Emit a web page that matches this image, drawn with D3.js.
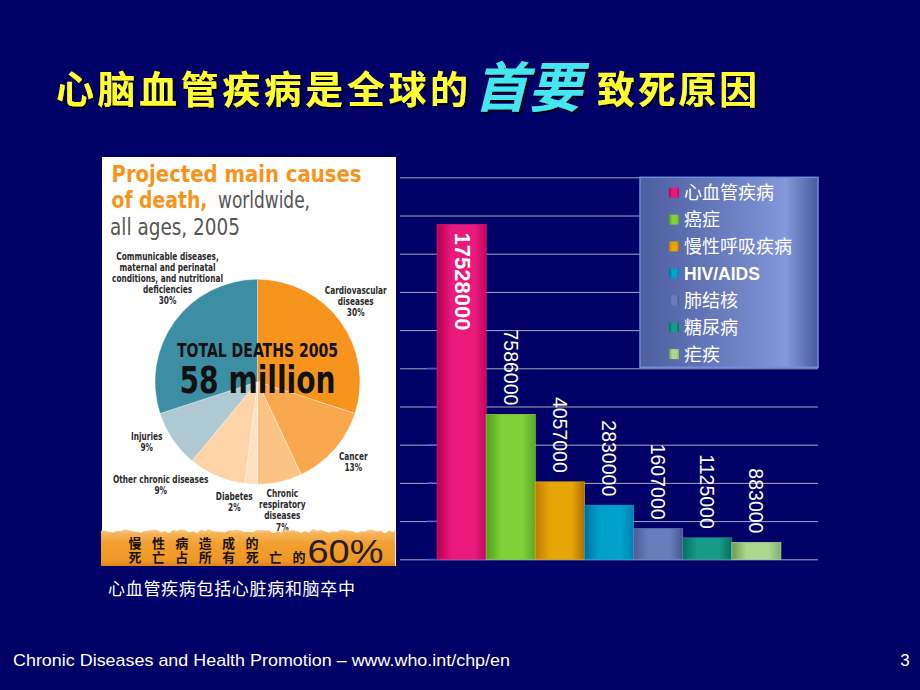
<!DOCTYPE html>
<html><head><meta charset="utf-8">
<script src="https://cdn.jsdelivr.net/npm/d3@7"></script>
<style>body{margin:0;background:#000066;} svg{display:block}</style>
</head><body>
<script>
// ---------------- data ----------------
const seriesNames = ["心血管疾病", "癌症", "慢性呼吸疾病", "HIV/AIDS", "肺结核", "糖尿病", "疟疾"];
const seriesValues = [17528000, 7586000, 4057000, 2830000, 1607000, 1125000, 883000];
const yTickValues = [0, 2000000, 4000000, 6000000, 8000000, 10000000, 12000000, 14000000, 16000000, 18000000, 20000000];
// [edge dark, centre light, right edge]
const seriesColors = [
  ["#b8004e", "#ea1a7c", "#c4085e"],
  ["#4e9e1e", "#80d038", "#5aa828"],
  ["#c07c00", "#e6a606", "#b06c00"],
  ["#006c9c", "#00a2cc", "#0080b0"],
  ["#4c5c98", "#6a7cbc", "#46568e"],
  ["#087060", "#189a88", "#0a6c5c"],
  ["#6c9c50", "#aad890", "#80b068"]
];

const pieCategories = ["Cardiovascular diseases", "Cancer", "Chronic respiratory diseases", "Diabetes",
  "Other chronic diseases", "Injuries", "Communicable diseases, maternal and perinatal conditions, and nutritional deficiencies"];
const piePercents = [30, 13, 7, 2, 9, 9, 30];
const pieColors = ["#f7941e", "#f9a84e", "#fbc484", "#fee0c2", "#fdd3a8", "#afc9d3", "#3c8ea4"];
const pieLabelLines = [
  ["Cardiovascular", "diseases", "30%"],
  ["Cancer", "13%"],
  ["Chronic", "respiratory", "diseases", "7%"],
  ["Diabetes", "2%"],
  ["Other chronic diseases", "9%"],
  ["Injuries", "9%"],
  ["Communicable diseases,", "maternal and perinatal", "conditions, and nutritional", "deficiencies", "30%"]
];
// layout: label centre x, first baseline y
const pieLabelPos = [[355.7, 293.5], [353.3, 459.5], [282.3, 497], [234.3, 499.5], [160.7, 483], [146.7, 439.5], [167.5, 259.5]];

// ---------------- svg ----------------
const W = 920, H = 690;
const svg = d3.select("body").append("svg").attr("width", W).attr("height", H);
const defs = svg.append("defs");
svg.append("rect").attr("width", W).attr("height", H).attr("fill", "#000066");

const shadow = defs.append("filter").attr("id", "shadow").attr("x", "-10%").attr("y", "-20%").attr("width", "130%").attr("height", "150%");
shadow.append("feDropShadow").attr("dx", 2).attr("dy", 2).attr("stdDeviation", 0.6)
  .attr("flood-color", "#000008").attr("flood-opacity", 1);

const CJK = "'Noto Sans CJK SC','Noto Sans CJK TC',sans-serif";
const NARROW = "'Liberation Sans Narrow','DejaVu Sans Condensed','Liberation Sans',sans-serif";
const ARIAL = "'Liberation Sans',Arial,sans-serif";

// ---------------- title ----------------
function titlePart(txt, x, y, size, len, fill, italic) {
  svg.append("text").attr("x", x).attr("y", y)
    .attr("font-family", CJK).attr("font-weight", "bold").attr("font-size", size)
    .attr("font-style", italic ? "italic" : "normal")
    .attr("textLength", len).attr("lengthAdjust", "spacing")
    .attr("fill", fill).attr("filter", "url(#shadow)").text(txt);
}
titlePart("心脑血管疾病是全球的", 56, 103, 38, 412, "#ffff33", false);
titlePart("首要", 474, 107, 54, 108, "#44e6f0", true);
titlePart("致死原因", 597, 103, 38, 160, "#ffff33", false);

// ---------------- left picture panel ----------------
const panel = svg.append("g");
panel.append("rect").attr("x", 102).attr("y", 157).attr("width", 294).attr("height", 409).attr("fill", "#ffffff");

function ptext(txt, x, y, opts) {
  const t = panel.append("text").attr("x", x).attr("y", y)
    .attr("font-family", opts.family || NARROW)
    .attr("font-weight", opts.weight || "bold")
    .attr("font-size", opts.size)
    .attr("fill", opts.fill || "#222")
    .attr("text-anchor", opts.anchor || "start")
    .text(txt);
  if (opts.len) t.attr("textLength", opts.len).attr("lengthAdjust", opts.adjust || "spacingAndGlyphs");
  if (opts.squeeze) {
    const w = t.node().getComputedTextLength();
    t.attr("textLength", w * opts.squeeze).attr("lengthAdjust", "spacingAndGlyphs");
  }
  return t;
}
ptext("Projected main causes", 111.5, 182, {size: 23.5, fill: "#f7941d", len: 250});
ptext("of death,", 111.5, 208, {size: 23.5, fill: "#f7941d", len: 96});
ptext("worldwide,", 218, 208, {size: 23.5, fill: "#555", weight: "normal", len: 92});
ptext("all ages, 2005", 110, 235, {size: 23.5, fill: "#555", weight: "normal", len: 130});

// pie
const pieCx = 257.5, pieCy = 381.8, pieR = 102.5;
const pieData = d3.pie().sort(null).value(d => d)(piePercents);
const arc = d3.arc().innerRadius(0).outerRadius(pieR);
panel.append("g").attr("transform", `translate(${pieCx},${pieCy})`)
  .selectAll("path").data(pieData).join("path")
  .attr("d", arc).attr("fill", (d, i) => pieColors[i])
  .attr("stroke", "#ffffff").attr("stroke-width", 0.6).attr("stroke-opacity", 0.6);

ptext("TOTAL DEATHS 2005", pieCx, 357.3, {size: 20, fill: "#111", anchor: "middle", len: 161});
ptext("58 million", pieCx, 393.3, {size: 37, fill: "#111", anchor: "middle", len: 156});

pieLabelLines.forEach((lines, i) => {
  const [lx, ly] = pieLabelPos[i];
  lines.forEach((ln, j) => {
    ptext(ln, lx, ly + j * 11.2, {size: 10.8, fill: "#2a2a2a", anchor: "middle", squeeze: 0.76});
  });
});

// orange banner with torn top edge
const bannerGrad = defs.append("linearGradient").attr("id", "banner").attr("x1", 0).attr("y1", 0).attr("x2", 0).attr("y2", 1);
[[0, "#fbd6a0"], [0.12, "#f6b45a"], [0.4, "#f2a030"], [0.85, "#ee9826"], [1, "#d98418"]].forEach(([o, c]) =>
  bannerGrad.append("stop").attr("offset", o).attr("stop-color", c));
const tornPts = d3.range(101, 396, 4).map(x => [x, 531 + 1.0 * Math.sin(x * 0.9) + 1.3 * Math.sin(x * 0.23 + 1) + 0.5 * Math.cos(x * 2.3)]);
const bannerPath = d3.path();
bannerPath.moveTo(101, 566);
tornPts.forEach(p => bannerPath.lineTo(p[0], p[1]));
bannerPath.lineTo(395, 530); bannerPath.lineTo(395, 566); bannerPath.closePath();
panel.append("path").attr("d", bannerPath.toString()).attr("fill", "url(#banner)");

ptext("慢性病造成的", 128.5, 547.5, {size: 13, fill: "#1a1208", family: CJK, len: 130, adjust: "spacing"});
ptext("死亡占所有死亡的", 128.5, 561.5, {size: 13, fill: "#1a1208", family: CJK, len: 177, adjust: "spacing"});
ptext("60%", 307.5, 562.7, {size: 33, fill: "#2a1c10", family: ARIAL, weight: "normal", len: 76});

// caption
svg.append("text").attr("x", 108).attr("y", 595).attr("font-family", CJK).attr("font-size", 17)
  .attr("fill", "#ffffff").attr("textLength", 247).attr("lengthAdjust", "spacing").text("心血管疾病包括心脏病和脑卒中");

// ---------------- bar chart ----------------
const plotL = 400, plotR = 818, plotT = 177.3, plotB = 559.3;
const x = d3.scaleBand().domain(seriesNames).range([plotL, plotR]).paddingInner(0).paddingOuter(0.755);
const y = d3.scaleLinear().domain([0, 20000000]).range([plotB, plotT]);

const grid = svg.append("g").attr("transform", `translate(${plotL},0)`)
  .call(d3.axisLeft(y).tickValues(yTickValues).tickSize(-(plotR - plotL)).tickFormat(""));
grid.select(".domain").remove();
grid.selectAll(".tick line").attr("stroke", "#a9a9bd").attr("stroke-width", 1);

// faint axis tick marks
svg.append("g").selectAll("line").data(yTickValues.filter(v => v <= 10000000)).join("line")
  .attr("x1", 427).attr("x2", 437).attr("y1", d => y(d)).attr("y2", d => y(d))
  .attr("stroke", "#2a5ad8").attr("stroke-width", 1.2);

// gradients
seriesColors.forEach((c, i) => {
  const g = defs.append("linearGradient").attr("id", "bar" + i).attr("x1", 0).attr("x2", 1).attr("y1", 0).attr("y2", 0);
  [[0, c[0]], [0.3, c[1]], [0.75, c[1]], [1, c[2]]].forEach(([o, col]) =>
    g.append("stop").attr("offset", o).attr("stop-color", col));
});

svg.append("g").selectAll("rect").data(seriesValues).join("rect")
  .attr("x", (d, i) => x(seriesNames[i]))
  .attr("y", d => y(d))
  .attr("width", x.bandwidth())
  .attr("height", d => plotB - y(d))
  .attr("fill", (d, i) => `url(#bar${i})`)
  .attr("stroke", (d, i) => d3.color(seriesColors[i][1]).brighter(0.4))
  .attr("stroke-width", 0.8).attr("stroke-opacity", 0.7);

// value labels
svg.append("g").selectAll("text").data(seriesValues).join("text")
  .attr("transform", (d, i) => {
    const cx = x(seriesNames[i]) + x.bandwidth() / 2;
    return i === 0 ? `translate(${cx + 1},${y(d) + 8}) rotate(90)` : `translate(${cx},${y(d) - 9}) rotate(90)`;
  })
  .attr("text-anchor", (d, i) => i === 0 ? "start" : "end")
  .attr("dy", "0.36em")
  .attr("font-family", ARIAL)
  .attr("font-weight", (d, i) => i === 0 ? "bold" : "normal")
  .attr("font-size", (d, i) => i === 0 ? 22 : 19.5)
  .attr("fill", "#ffffff")
  .text(d => d3.format("d")(d));

// legend
const lg = defs.append("linearGradient").attr("id", "legendGrad").attr("x1", 0).attr("x2", 1).attr("y1", 0).attr("y2", 0);
[[0, "#4e5e9e"], [0.5, "#6a7ec0"], [0.82, "#8298da"], [1, "#4a5a9c"]].forEach(([o, c]) =>
  lg.append("stop").attr("offset", o).attr("stop-color", c));
const legend = svg.append("g");
legend.append("rect").attr("x", 640).attr("y", 177.3).attr("width", 178).attr("height", 190)
  .attr("fill", "url(#legendGrad)").attr("stroke", "#6f8ede").attr("stroke-width", 1.5);
const items = legend.selectAll("g").data(seriesNames).join("g")
  .attr("transform", (d, i) => `translate(669,${192.7 + i * 26.9})`);
items.append("rect").attr("x", 0).attr("y", -5).attr("width", 10).attr("height", 10)
  .attr("fill", (d, i) => `url(#bar${i})`);
items.append("text").attr("x", 15).attr("y", 0).attr("dy", "0.36em")
  .attr("font-family", d => d === "HIV/AIDS" ? ARIAL : CJK)
  .attr("font-weight", d => d === "HIV/AIDS" ? "bold" : "normal")
  .attr("font-size", d => d === "HIV/AIDS" ? 17.5 : 18)
  .attr("fill", "#ffffff")
  .text(d => d);

// ---------------- footer ----------------
svg.append("text").attr("x", 13).attr("y", 666).attr("font-family", ARIAL).attr("font-size", 17)
  .attr("fill", "#ffffff").attr("textLength", 497).attr("lengthAdjust", "spacingAndGlyphs")
  .text("Chronic Diseases and Health Promotion – www.who.int/chp/en");
svg.append("text").attr("x", 905).attr("y", 666).attr("font-family", ARIAL).attr("font-size", 17)
  .attr("text-anchor", "middle").attr("fill", "#ffffff").text("3");
</script>
</body></html>
